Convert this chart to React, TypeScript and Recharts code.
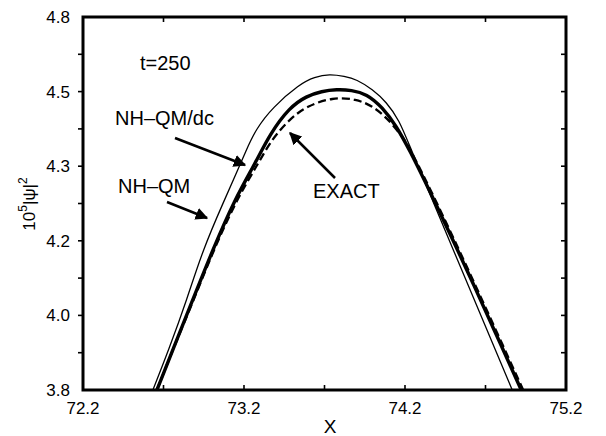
import { LineChart, Line, XAxis, YAxis } from "recharts";

// Axis setup. The y axis is drawn on equally spaced positions (3.8 … 4.8) with
// the printed labels of the original figure, which are not evenly spaced.
const xDomain = [72.2, 75.2];
const yDomain = [3.8, 4.8];
const xTicks = [72.2, 72.7, 73.2, 73.7, 74.2, 74.7, 75.2];
const xMajor = [72.2, 73.2, 74.2, 75.2];
const yTicks = [3.8, 3.9, 4.0, 4.1, 4.2, 4.3, 4.4, 4.5, 4.6, 4.7, 4.8];
const yMajor = [3.8, 4.0, 4.2, 4.4, 4.6, 4.8];
const yTickLabels = ["3.8", "4.0", "4.2", "4.3", "4.5", "4.8"];

// NH-QM (thin line)
const nhqmX = [72.634, 72.733, 72.845, 72.944, 73.08, 73.149, 73.211, 73.273, 73.378, 73.545, 73.638, 73.731, 73.824, 73.899, 73.998, 74.085, 74.165, 74.227, 74.413, 74.599, 74.785, 74.866];
const nhqmY = [3.8, 3.908, 4.042, 4.176, 4.311, 4.378, 4.44, 4.499, 4.558, 4.62, 4.639, 4.647, 4.641, 4.633, 4.606, 4.572, 4.523, 4.456, 4.265, 4.074, 3.883, 3.8];

// NH-QM/dc (thick line)
const dcX = [72.659, 72.758, 72.882, 73.006, 73.142, 73.273, 73.359, 73.483, 73.589, 73.682, 73.775, 73.868, 73.961, 74.06, 74.147, 74.227, 74.364, 74.497, 74.627, 74.754, 74.922];
const dcY = [3.8, 3.908, 4.042, 4.176, 4.311, 4.41, 4.485, 4.558, 4.588, 4.601, 4.606, 4.604, 4.594, 4.558, 4.507, 4.445, 4.324, 4.203, 4.082, 3.961, 3.8];

// EXACT (dashed)
const exactX = [72.659, 72.758, 72.888, 73.012, 73.155, 73.285, 73.372, 73.483, 73.589, 73.75, 73.899, 73.998, 74.085, 74.184, 74.24, 74.373, 74.506, 74.636, 74.764, 74.934];
const exactY = [3.8, 3.908, 4.042, 4.176, 4.311, 4.405, 4.472, 4.526, 4.561, 4.585, 4.58, 4.561, 4.531, 4.48, 4.44, 4.324, 4.203, 4.082, 3.961, 3.8];

const toPoints = (xs: number[], ys: number[]) => xs.map((x, i) => ({ x, y: ys[i] }));
const nhqm = toPoints(nhqmX, nhqmY);
const nhqmDc = toPoints(dcX, dcY);
const exact = toPoints(exactX, exactY);

const W = 606;
const H = 436;
const PLOT_LEFT = 83;
const PLOT_TOP = 17;
const PLOT_RIGHT = 566;
const PLOT_BOTTOM = 390;
const FONT = "'Liberation Sans', Arial, sans-serif";
const TICK = 5;

// frame ticks follow the same linear mapping as the chart's plot area
const px = (v: number) =>
  PLOT_LEFT + ((v - xDomain[0]) / (xDomain[1] - xDomain[0])) * (PLOT_RIGHT - PLOT_LEFT);
const py = (v: number) =>
  PLOT_BOTTOM - ((v - yDomain[0]) / (yDomain[1] - yDomain[0])) * (PLOT_BOTTOM - PLOT_TOP);

function XLabel(props: any) {
  const { x, payload } = props;
  const v = payload.value;
  if (!xMajor.some((m) => Math.abs(m - v) < 1e-6)) return <g />;
  return (
    <text x={x} y={PLOT_BOTTOM + 24} textAnchor="middle" fontFamily={FONT} fontSize={17} fill="#000">
      {v.toFixed(1)}
    </text>
  );
}

function YLabel(props: any) {
  const { y, payload } = props;
  const idx = yMajor.findIndex((m) => Math.abs(m - payload.value) < 1e-6);
  if (idx < 0) return <g />;
  return (
    <text x={PLOT_LEFT - 13} y={y + 6} textAnchor="end" fontFamily={FONT} fontSize={17} fill="#000">
      {yTickLabels[idx]}
    </text>
  );
}

export default function App() {
  const innerX = xTicks.slice(1, -1);
  const innerY = yTicks.slice(1, -1);
  return (
    <div style={{ position: "absolute", left: 0, top: 0, width: W, height: H, background: "#fff" }}>
      <LineChart
        width={W}
        height={H}
        margin={{ top: PLOT_TOP, right: W - PLOT_RIGHT, bottom: 0, left: 0 }}
      >
        <XAxis
          dataKey="x"
          type="number"
          domain={xDomain}
          ticks={xTicks}
          interval={0}
          allowDataOverflow
          axisLine={false}
          tickLine={false}
          height={H - PLOT_BOTTOM}
          tick={<XLabel />}
        />
        <YAxis
          dataKey="y"
          type="number"
          domain={yDomain}
          ticks={yTicks}
          interval={0}
          allowDataOverflow
          axisLine={false}
          tickLine={false}
          width={PLOT_LEFT}
          tick={<YLabel />}
        />
        <Line
          data={nhqm}
          dataKey="y"
          type="basis"
          stroke="#000"
          strokeWidth={1.3}
          dot={false}
          isAnimationActive={false}
        />
        <Line
          data={nhqmDc}
          dataKey="y"
          type="basis"
          stroke="#000"
          strokeWidth={3.4}
          dot={false}
          isAnimationActive={false}
        />
        <Line
          data={exact}
          dataKey="y"
          type="basis"
          stroke="#000"
          strokeWidth={2.3}
          strokeDasharray="8 4"
          dot={false}
          isAnimationActive={false}
        />
      </LineChart>

      <svg
        width={W}
        height={H}
        style={{ position: "absolute", left: 0, top: 0, pointerEvents: "none" }}
      >
        <defs>
          <marker id="arrow" viewBox="0 0 10 10" refX="9" refY="5" markerWidth="5" markerHeight="5" orient="auto">
            <path d="M0,0 L10,5 L0,10 z" fill="#000" />
          </marker>
        </defs>
        {/* axes frame and ticks */}
        <g stroke="#000" strokeWidth={1.6}>
          {innerX.map((v) => (
            <g key={`x${v}`}>
              <line x1={px(v)} x2={px(v)} y1={PLOT_BOTTOM} y2={PLOT_BOTTOM - TICK} />
              <line x1={px(v)} x2={px(v)} y1={PLOT_TOP} y2={PLOT_TOP + TICK} />
            </g>
          ))}
          {innerY.map((v) => (
            <g key={`y${v}`}>
              <line x1={PLOT_LEFT - TICK} x2={PLOT_LEFT} y1={py(v)} y2={py(v)} />
              <line x1={PLOT_RIGHT - TICK} x2={PLOT_RIGHT} y1={py(v)} y2={py(v)} />
            </g>
          ))}
        </g>
        <path
          d={`M${PLOT_LEFT},${PLOT_TOP} H${PLOT_RIGHT} V${PLOT_BOTTOM} H${PLOT_LEFT} Z`}
          fill="none"
          stroke="#000"
          strokeWidth={3}
        />
        <g fontFamily={FONT} fill="#000">
          <text x={140} y={70} fontSize={20}>t=250</text>
          <text x={115} y={125} fontSize={20}>NH–QM/dc</text>
          <text x={118} y={193} fontSize={20}>NH–QM</text>
          <text x={313} y={198} fontSize={20}>EXACT</text>
          <text x={330} y={433} fontSize={19} textAnchor="middle">X</text>
          <text transform="translate(35,204) rotate(-90)" textAnchor="middle" fontSize={17}>
            10<tspan fontSize={12} dy={-8}>5</tspan>
            <tspan dy={8}>|ψ|</tspan>
            <tspan fontSize={12} dy={-8}>2</tspan>
          </text>
        </g>
        <g stroke="#000" strokeWidth={2.5} markerEnd="url(#arrow)">
          <line x1={175} y1={138} x2={245} y2={165} />
          <line x1={167} y1={202} x2={207} y2={218} />
          <line x1={335} y1={178} x2={290} y2={133} />
        </g>
      </svg>
    </div>
  );
}
